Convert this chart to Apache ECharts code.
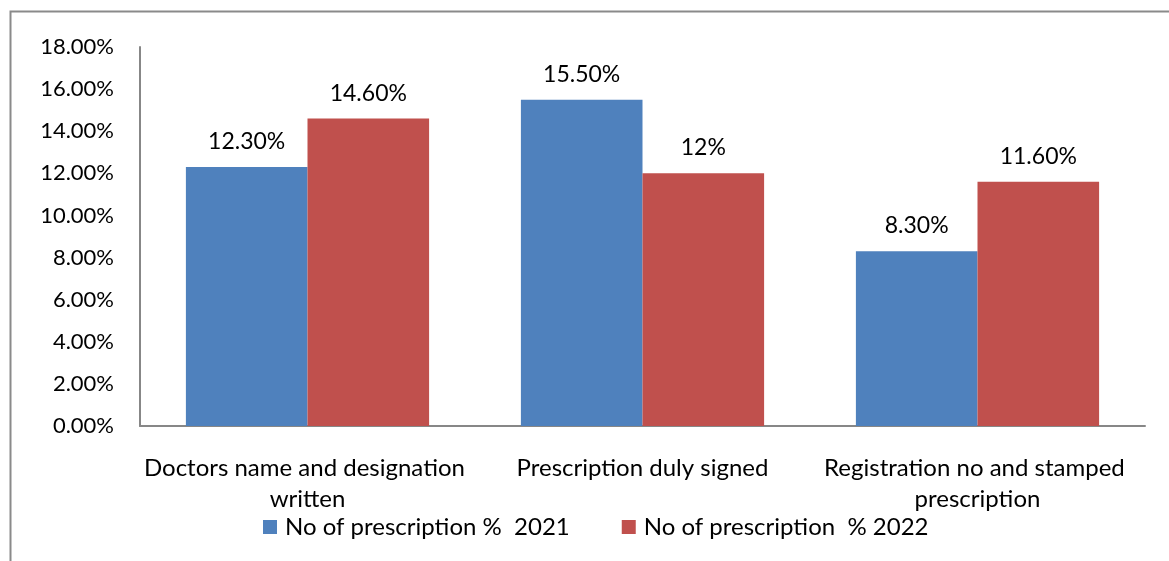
<!DOCTYPE html>
<html>
<head>
<meta charset="utf-8">
<script src="https://cdn.jsdelivr.net/npm/echarts@6/dist/echarts.min.js"></script>
<style>
  html, body { margin: 0; padding: 0; background: #fff; }
  #chart { width: 1169px; height: 561px; }
</style>
</head>
<body>
<div id="chart"></div>
<script>
// Prescription audit: share of prescriptions meeting each criterion
const categories = [
  'Doctors name and designation written',
  'Prescription duly signed',
  'Registration no and stamped prescription'
];
const seriesNames = ['No of prescription %  2021', 'No of prescription  % 2022'];
const values2021 = [12.3, 15.5, 8.3];
const values2022 = [14.6, 12, 11.6];
const labels2021 = ['12.30%', '15.50%', '8.30%'];
const labels2022 = ['14.60%', '12%', '11.60%'];
const yMin = 0, yMax = 18, yStep = 2;

const FONT = 'Lato';
const TEXT = '#000';
const AXIS = '#878787';

const chart = echarts.init(document.getElementById('chart'), null, { renderer: 'canvas' });

function barSeries(name, values, labels, color) {
  return {
    name: name,
    type: 'bar',
    data: values,
    barWidth: '36.3%',
    barGap: '0%',
    itemStyle: { color: color },
    label: {
      show: true,
      position: 'top',
      distance: 14,
      color: TEXT,
      fontFamily: FONT,
      fontSize: 23,
      formatter: (p) => labels[p.dataIndex]
    }
  };
}

chart.setOption({
  animation: false,
  backgroundColor: '#fff',
  graphic: [{
    type: 'rect',
    left: 8, top: 9,
    shape: { width: 1200, height: 600 },
    style: { fill: 'none', stroke: '#8a8a8a', lineWidth: 2 },
    silent: true,
    z: -10
  }],
  grid: { left: 140, right: 24, top: 47, bottom: 135, containLabel: false },
  legend: {
    data: seriesNames,
    left: 258,
    top: 510,
    itemWidth: 14,
    itemHeight: 14,
    itemGap: 52,
    icon: 'rect',
    textStyle: { color: TEXT, fontFamily: FONT, fontSize: 24, padding: [0, 0, 0, 3] }
  },
  xAxis: {
    type: 'category',
    data: categories,
    axisLine: { show: true, lineStyle: { color: AXIS, width: 2 } },
    axisTick: { show: false },
    splitLine: { show: false },
    axisLabel: {
      interval: 0,
      color: TEXT,
      fontFamily: FONT,
      fontSize: 24,
      margin: 27,
      lineHeight: 31,
      width: 335,
      overflow: 'break',
      align: 'center'
    }
  },
  yAxis: {
    type: 'value',
    min: yMin,
    max: yMax,
    interval: yStep,
    axisLine: { show: true, lineStyle: { color: AXIS, width: 2 } },
    axisTick: { show: false },
    splitLine: { show: false },
    axisLabel: {
      color: TEXT,
      fontFamily: FONT,
      fontSize: 22,
      margin: 26,
      formatter: (v) => v.toFixed(2) + '%'
    }
  },
  series: [
    barSeries(seriesNames[0], values2021, labels2021, '#4F81BD'),
    barSeries(seriesNames[1], values2022, labels2022, '#C0504D')
  ]
});
</script>
</body>
</html>
